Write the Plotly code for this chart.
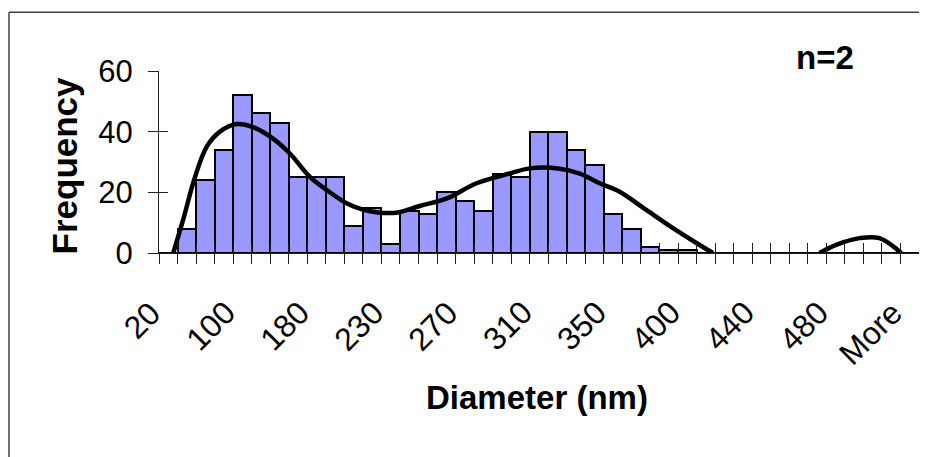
import plotly.graph_objects as go

# ---- data ----
bar_counts = [0, 8, 24, 34, 52, 46, 43, 25, 25, 25, 9, 15, 3, 14, 13, 20, 17, 14, 26, 25,
              40, 40, 34, 29, 13, 8, 2, 1, 1, 0, 0, 0, 0, 0, 0, 0, 0, 0, 0, 0, 0]
tick_labels = ["20", "100", "180", "230", "270", "310", "350", "400", "440", "480", "More"]
label_step = 4

# smooth fitted curve (x in category units, None = gap where curve is below 0)
curve_x = [0.27, 0.85, 1.39, 2.07, 2.79, 3.69, 4.57, 5.65, 6.56, 7.64, 8.54, 9.62, 10.5,
           11.41, 12.31, 13.57, 15.03, 16.63, 18.42, 19.5, 21.12, 22.2, 23.27, 24.35,
           25.79, 27.23, 28.49, 29.38, None, 35.13, 36.03, 37.29, 38.37, 39.54]
curve_y = [0, 12, 24, 35, 40, 42.5, 41.5, 37.7, 32.8, 25.1, 20.8, 16.4, 14.3,
           13.3, 13.3, 15.5, 18, 23, 26.2, 27.9, 27.8, 26.2, 23, 20.2,
           14.2, 8.2, 3.3, 0, None, 0, 2.7, 4.9, 4.9, 0]

y_ticks = [0, 20, 40, 60]

n_cat = len(bar_counts)
cat_x = list(range(n_cat))
boundaries = [i - 0.5 for i in range(n_cat + 1)]
label_pos = list(range(0, n_cat, label_step))
xr = [-0.5, n_cat - 0.5]
yr = [0, 60]

FONT = "Liberation Sans, Arial, sans-serif"
AX = "#202020"

fig = go.Figure()
fig.add_trace(go.Bar(x=cat_x, y=bar_counts, marker=dict(color="#9999FF",
                     line=dict(color="black", width=2)),
                     xaxis="x", yaxis="y", showlegend=False))
fig.add_trace(go.Scatter(x=curve_x, y=curve_y, mode="lines",
                         line=dict(color="black", width=4.5, shape="spline", smoothing=1.0),
                         connectgaps=False, xaxis="x", yaxis="y", showlegend=False))
fig.add_trace(go.Scatter(x=[], y=[], xaxis="x3", yaxis="y2", showlegend=False))

common = dict(showgrid=False, zeroline=False, automargin=False)

fig.update_layout(
    width=919, height=449,
    margin=dict(l=151, r=8, t=63, b=204),
    paper_bgcolor="white", plot_bgcolor="white",
    bargap=0,
    font=dict(family=FONT, size=31, color="black"),
    xaxis=dict(range=xr, tickmode="array", tickvals=boundaries, ticks="outside",
               ticklen=10, tickcolor=AX, tickwidth=1, showticklabels=False,
               showline=True, linecolor=AX, linewidth=1, **common),
    xaxis3=dict(range=xr, overlaying="x", anchor="y2", tickmode="array", tickvals=boundaries,
                ticks="inside", ticklen=10, tickcolor=AX, showticklabels=False,
                showline=False, **common),
    yaxis=dict(range=yr, tickmode="array", tickvals=y_ticks, ticks="outside", ticklen=10,
               tickcolor=AX, showline=True, linecolor=AX, linewidth=1,
               ticklabelstandoff=9, tickfont=dict(size=31), **common),
    yaxis2=dict(range=yr, overlaying="y", anchor="x3", side="left", tickmode="array",
                tickvals=y_ticks, ticks="inside", ticklen=9, tickcolor=AX,
                showticklabels=False, showline=False, **common),
)

# rotated category labels (Excel style: upper end of text just left of category centre)
for pos, lab in zip(label_pos, tick_labels):
    fig.add_annotation(text=lab, x=pos, y=0, xref="x", yref="y", textangle=-45,
                       showarrow=False, xanchor="right", yanchor="top",
                       xshift=1, yshift=-40, font=dict(size=32), borderpad=0)

fig.add_annotation(text="<b>Frequency</b>", xref="paper", yref="paper", x=-0.125, y=0.481,
                   textangle=-90, showarrow=False, font=dict(size=35),
                   xanchor="center", yanchor="middle")
fig.add_annotation(text="<b>Diameter (nm)</b>", xref="paper", yref="paper", x=0.497, y=-0.792,
                   showarrow=False, font=dict(size=33), xanchor="center", yanchor="middle")
fig.add_annotation(text="<b>n=2</b>", xref="paper", yref="paper", x=0.876, y=1.0765,
                   showarrow=False, font=dict(size=33), xanchor="center", yanchor="middle")

# chart-area frame (top and left edges visible)
fig.add_shape(type="line", xref="paper", yref="paper", x0=-0.1974, x1=1.03, y0=1.3224, y1=1.3224,
              line=dict(color="#404040", width=1.5))
fig.add_shape(type="line", xref="paper", yref="paper", x0=-0.1974, x1=-0.1974, y0=1.3224, y1=-1.2,
              line=dict(color="#404040", width=1.5))

fig.write_html("out.html")
